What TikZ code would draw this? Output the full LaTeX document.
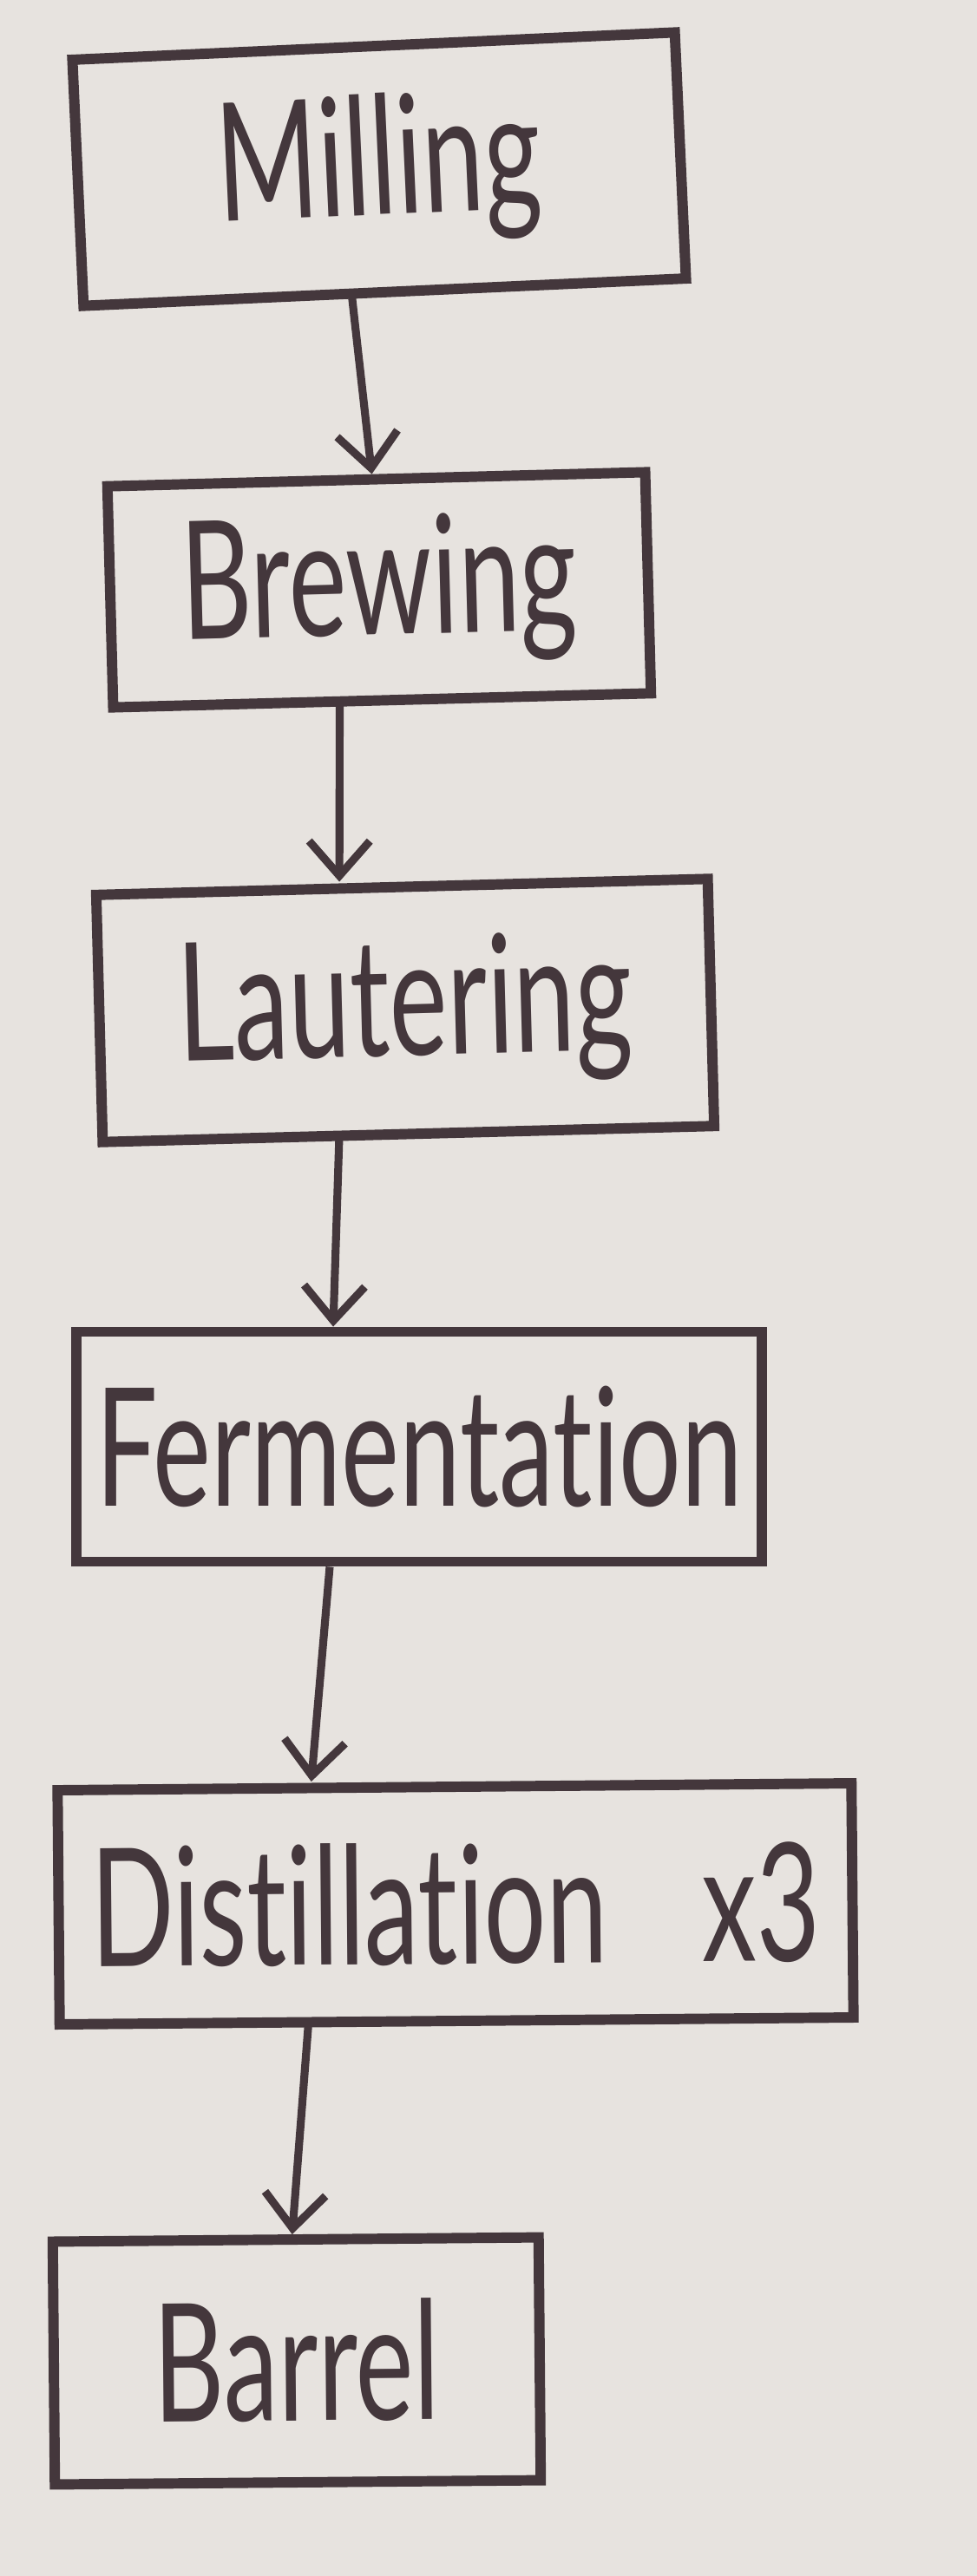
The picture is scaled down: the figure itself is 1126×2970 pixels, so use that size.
\documentclass[tikz,border=0pt]{standalone}
\usepackage{fontspec}
\setmainfont{Lato}[Ligatures=NoCommon]
\usepackage{graphicx}
\usepackage{xcolor}
\usetikzlibrary{arrows.meta}

\definecolor{paper}{RGB}{231,227,223}
\definecolor{ink}{RGB}{68,55,60}

\tikzset{
    stage/.style={draw=ink, line width=3.4pt, inner sep=0pt, text=ink,
        font=\fontsize{36}{40}\selectfont},
    flow/.style={draw=ink, line width=2.6pt,
        -{Straight Barb[length=4mm, width=7mm, line width=2.6pt]}}
}
\newcommand{\tall}[1]{\scalebox{1}[1.5]{#1}}

\begin{document}
\begin{tikzpicture}[x=0.1mm, y=-0.1mm]
    \fill[paper] (0, 0) rectangle (1126, 2970);

    \node[stage, minimum width=69.5mm, minimum height=28.4mm, rotate=2.6] (milling) at (437, 195) {\tall{Milling}};
    \node[stage, minimum width=62mm, minimum height=25.5mm, rotate=1.5] (brewing) at (437, 680) {\tall{Brewing}};
    \node[stage, minimum width=70.5mm, minimum height=28.5mm, rotate=1.5] (lautering) at (467, 1165) {\tall{Lautering}};
    \node[stage, minimum width=79mm, minimum height=26.5mm] (fermentation) at (483, 1668) {\tall{Fermentation}};
    \node[stage, minimum width=91.5mm, minimum height=27mm, rotate=0.5] (distillation) at (525, 2195) {\tall{Distillation\hspace{31pt}x3}};
    \node[stage, minimum width=56mm, minimum height=28mm, rotate=0.5] (barrel) at (342, 2722) {\tall{Barrel}};

    \draw[flow] ([xshift=-3.8mm]milling.south) -- ([xshift=-0.5mm]brewing.north);
    \draw[flow] ([xshift=-4.9mm]brewing.south) -- ([xshift=-7.2mm]lautering.north);
    \draw[flow] ([xshift=-8mm]lautering.south) -- ([xshift=-9.9mm]fermentation.north);
    \draw[flow] ([xshift=-10.3mm]fermentation.south) -- ([xshift=-16.5mm]distillation.north);
    \draw[flow] ([xshift=-17.1mm]distillation.south) -- ([xshift=-0.4mm]barrel.north);
\end{tikzpicture}
\end{document}
